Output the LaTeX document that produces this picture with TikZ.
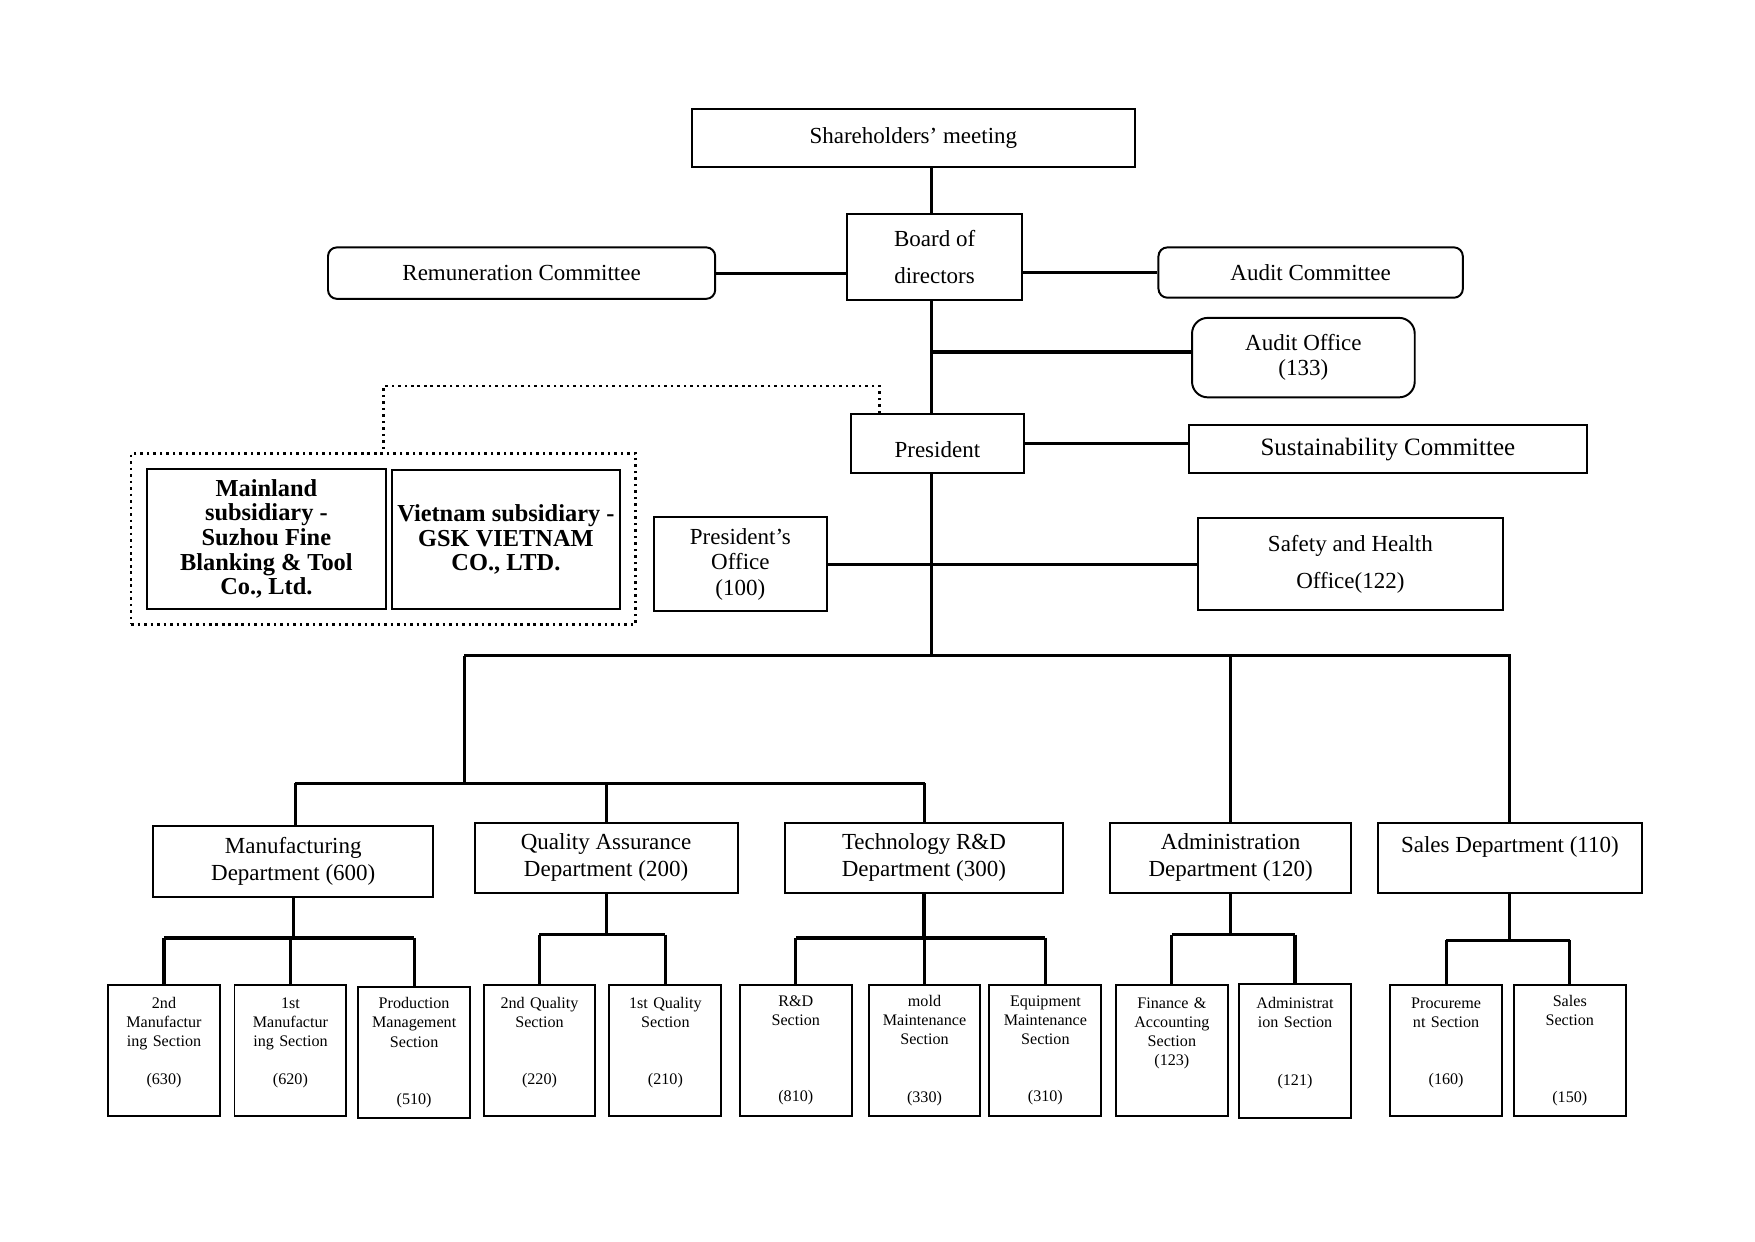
\documentclass[tikz,border=0pt]{standalone}
\usepackage{fontspec}
\setmainfont{Liberation Serif}
\usetikzlibrary{fit}

\begin{document}
\begin{tikzpicture}[x=0.02cm, y=-0.02cm,
	box/.style = {draw, rectangle, line width=1pt, inner sep=2pt, align=center, font=\fontsize{11.7}{13.7}\selectfont},
	rbox/.style = {box, rounded corners=0.16cm},
	dept/.style = {box, minimum height=1.26cm},
	subco/.style = {box, inner sep=1pt, font=\fontsize{12.4}{12.5}\selectfont\bfseries},
	sec/.style = {draw, line width=1pt, inner sep=0pt, minimum width=2cm, minimum height=2.34cm, text width=1.9cm, align=center, font=\fontsize{8.2}{9.7}\selectfont},
	link/.style = {line width=1.6pt}]
	
	\fill[white] (0,0) rectangle (1568,1109);
	\useasboundingbox (0,0) rectangle (1568,1109);
	
	% top levels
	\node[box, minimum width=7.92cm, minimum height=1.04cm] (share) at (816,123) {Shareholders’ meeting};
	\node[box, minimum width=3.12cm, minimum height=1.54cm, font=\fontsize{11.7}{18.8}\selectfont] (board) at (835,229.5) {Board of\\directors};
	\node[rbox, minimum width=6.92cm, minimum height=0.92cm] (remun) at (466,244) {Remuneration Committee};
	\node[rbox, minimum width=5.44cm, minimum height=0.9cm] (auditc) at (1171,243.5) {Audit Committee};
	\node[rbox, rounded corners=0.28cm, minimum width=3.98cm, minimum height=1.42cm, font=\fontsize{11.7}{12.8}\selectfont] (auditoff) at (1164.5,319.5) {Audit Office\\(133)};
	\node[box, minimum width=3.1cm, minimum height=1.06cm] (pres) at (837.5,396.5) {\raisebox{-0.25cm}[0pt][0pt]{President}};
	\node[box, minimum width=7.12cm, minimum height=0.86cm, font=\fontsize{12.7}{14}\selectfont] (sust) at (1240,401.5) {Sustainability Committee};
	
	% subsidiaries
	\node[subco, minimum width=4.28cm, minimum height=2.5cm] (mainland) at (238,481.5) {Mainland\\subsidiary -\\Suzhou Fine\\Blanking \& Tool\\Co., Ltd.};
	\node[subco, minimum width=4.08cm, minimum height=2.48cm] (vietnam) at (452,482) {Vietnam subsidiary -\\GSK VIETNAM\\CO., LTD.};
	\node[draw, dotted, line width=1.3pt, inner sep=0.26cm, fit=(mainland)(vietnam)] (grp) {};
	
	% offices
	\node[box, minimum width=3.1cm, minimum height=1.68cm, font=\fontsize{11.7}{13}\selectfont] (presoff) at (661.5,504) {President’s\\Office\\(100)};
	\node[box, minimum width=5.46cm, minimum height=1.64cm, font=\fontsize{11.7}{18.8}\selectfont] (safety) at (1206.5,504) {Safety and Health\\Office(122)};
	
	% departments
	\node[dept, minimum width=5cm] (manuf) at (262,769.5) {Manufacturing\\Department (600)};
	\node[dept, minimum width=4.7cm] (qa) at (541.5,766.5) {Quality Assurance\\Department (200)};
	\node[dept, minimum width=4.98cm] (tech) at (825.5,766.5) {Technology R\&D\\Department (300)};
	\node[dept, minimum width=4.3cm] (admin) at (1099.5,766.5) {Administration\\Department (120)};
	\node[dept, minimum width=4.72cm] (sales) at (1349,766.5) {Sales Department (110)\\~};
	
	% sections
	\node[sec] (s630) at (146.5,938.5) {2nd\\Manufactur\\ing Section\\~\\(630)\\~};
	\node[sec] (s620) at (259.5,938.5) {1st\\Manufactur\\ing Section\\~\\(620)\\~};
	\node[sec] (s510) at (370,940.5) {Production\\Management\\Section\\~\\~\\(510)};
	\node[sec] (s220) at (482,938.5) {2nd Quality\\Section\\~\\~\\(220)\\~};
	\node[sec] (s210) at (594.5,938.5) {1st Quality\\Section\\~\\~\\(210)\\~};
	\node[sec] (s810) at (711,938.5) {R\&D\\Section\\~\\~\\~\\(810)};
	\node[sec] (s330) at (826,938.5) {mold\\Maintenance\\Section\\~\\~\\(330)};
	\node[sec] (s310) at (934,938.5) {Equipment\\Maintenance\\Section\\~\\~\\(310)};
	\node[sec] (s123) at (1047,938.5) {Finance \&\\Accounting\\Section\\(123)\\~\\~};
	\node[sec, minimum height=2.4cm] (s121) at (1157,939) {Administrat\\ion Section\\~\\~\\(121)\\~};
	\node[sec] (s160) at (1292,938.5) {Procureme\\nt Section\\~\\~\\(160)\\~};
	\node[sec] (s150) at (1402.5,938.5) {Sales\\Section\\~\\~\\~\\(150)};
	
	% bus points
	\coordinate (trunk) at (832,586);
	\coordinate (busL) at (415,586);
	\coordinate (busR) at (1350,586);
	\coordinate (subL) at (264,700);
	\coordinate (subM) at (415,700);
	\coordinate (subR) at (826,700);
	\coordinate (dotbend) at (786,345);
	\coordinate (aoff) at ([yshift=0.1cm]auditoff.west);
	
	\draw[link] (share.south -| trunk) -- (board.north -| trunk);
	\draw[link] (board.south -| trunk) -- (pres.north -| trunk);
	\draw[link] (pres.south -| trunk) -- (trunk);
	\draw[link] (remun.east) -- (remun.east -| board.west);
	\draw[link] (board.east |- auditc.west) -- (auditc.west);
	\draw[link] (trunk |- aoff) -- (aoff);
	\draw[link] (pres.east) -- (pres.east -| sust.west);
	\draw[link] (presoff.east) -- (safety.west);
	\draw[dotted, line width=1.3pt] (pres.north -| dotbend) -- (dotbend) -| (grp.north);
	
	\draw[link] (busL) -- (busR);
	\draw[link] (busL) -- (subM);
	\draw[link] (subL) -- (subR);
	\draw[link] (subL) -- (subL |- manuf.north);
	\draw[link] (qa.north |- subL) -- (qa.north);
	\draw[link] (subR) -- (subR |- tech.north);
	\draw[link] (admin.north |- busL) -- (admin.north);
	\draw[link] (sales.north |- busL) -- (sales.north);
	
	\foreach \d/\a/\b/\y in {manuf/s630/s510/838, qa/s220/s210/835, tech/s810/s310/838, admin/s123/s121/835, sales/s160/s150/840}{
		\coordinate (bar) at (0,\y);
		\draw[link] (\d.south) -- (\d.south |- bar);
		\draw[link] (\a.north |- bar) -- (\b.north |- bar);
	}
	\foreach \c/\y in {s630/838, s620/838, s510/838, s220/835, s210/835, s810/838, s330/838, s310/838, s123/835, s121/835, s160/840, s150/840}{
		\coordinate (bar) at (0,\y);
		\draw[link] (\c.north |- bar) -- (\c.north);
	}
	
\end{tikzpicture}
\end{document}
